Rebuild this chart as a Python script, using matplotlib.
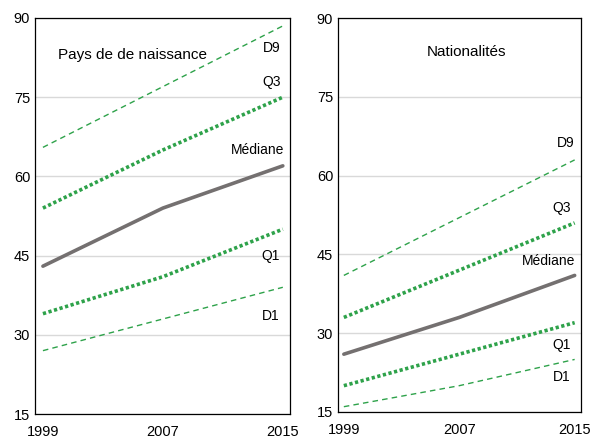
import matplotlib.pyplot as plt

plt.rcParams['font.family'] = ['Liberation Sans', 'DejaVu Sans']

years = [1999, 2007, 2015]

# Pays de naissance
pn_d9 = [65.5, 77, 88.5]
pn_q3 = [54, 65, 75]
pn_med = [43, 54, 62]
pn_q1 = [34, 41, 50]
pn_d1 = [27, 33, 39]

# Nationalités
nat_d9 = [41, 52, 63]
nat_q3 = [33, 42, 51]
nat_med = [26, 33, 41]
nat_q1 = [20, 26, 32]
nat_d1 = [16, 20, 25]

GREEN = '#2ea24a'
GREY = '#747070'

fig = plt.figure(figsize=(5.9, 4.42), dpi=100)
ax1 = fig.add_axes([0.0593, 0.0633, 0.432, 0.896])
ax2 = fig.add_axes([0.573, 0.068, 0.412, 0.891])


def panel(ax, d9, q3, med, q1, d1, xlim):
    ax.set_xlim(*xlim)
    ax.set_ylim(15, 90)
    ax.set_yticks([15, 30, 45, 60, 75, 90])
    ax.set_xticks(years)
    ax.tick_params(length=0, labelsize=10.5)
    ax.tick_params(axis='x', pad=8)
    ax.grid(axis='y', color='#d9d9d9', lw=1)
    ax.set_axisbelow(True)
    for s in ax.spines.values():
        s.set_linewidth(0.9)
        s.set_color('black')
    ax.plot(years, d9, color=GREEN, lw=1.0, dashes=(4, 3))
    ax.plot(years, d1, color=GREEN, lw=1.0, dashes=(4, 3))
    ax.plot(years, q3, color=GREEN, lw=2.6, dashes=(0.9, 0.7))
    ax.plot(years, q1, color=GREEN, lw=2.6, dashes=(0.9, 0.7))
    ax.plot(years, med, color=GREY, lw=2.6, solid_capstyle='round')


panel(ax1, pn_d9, pn_q3, pn_med, pn_q1, pn_d1, (1998.47, 2015.47))
panel(ax2, nat_d9, nat_q3, nat_med, nat_q1, nat_d1, (1998.6, 2015.45))

fs = 10
ax1.text(2005.0, 83, 'Pays de de naissance', ha='center', va='center', fontsize=11)
ax1.text(2014.27, 84.3, 'D9', ha='center', va='center', fontsize=fs)
ax1.text(2014.27, 77.9, 'Q3', ha='center', va='center', fontsize=fs)
ax1.text(2013.3, 65, 'Médiane', ha='center', va='center', fontsize=fs)
ax1.text(2014.2, 45, 'Q1', ha='center', va='center', fontsize=fs)
ax1.text(2014.2, 33.6, 'D1', ha='center', va='center', fontsize=fs)

ax2.text(2007.5, 83.5, 'Nationalités', ha='center', va='center', fontsize=11)
ax2.text(2014.36, 66.2, 'D9', ha='center', va='center', fontsize=fs)
ax2.text(2014.1, 53.8, 'Q3', ha='center', va='center', fontsize=fs)
ax2.text(2013.2, 43.7, 'Médiane', ha='center', va='center', fontsize=fs)
ax2.text(2014.1, 27.7, 'Q1', ha='center', va='center', fontsize=fs)
ax2.text(2014.1, 21.6, 'D1', ha='center', va='center', fontsize=fs)

fig.savefig('out.png', dpi=100, facecolor='white')
